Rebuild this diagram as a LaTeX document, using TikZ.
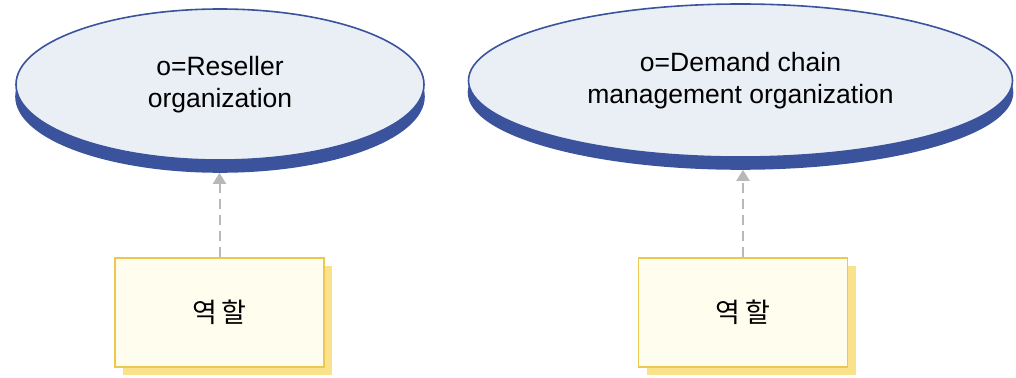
\documentclass[tikz,border=0pt]{standalone}
\usepackage{fontspec}
\setmainfont{Liberation Sans}
\newfontfamily\kofont{Noto Sans CJK KR}
\usepackage{tikz}
\usetikzlibrary{shapes.geometric,shadows,arrows.meta}
\usepackage{xcolor}
\definecolor{orgline}{RGB}{58,83,156}
\definecolor{orgfill}{RGB}{234,239,246}
\definecolor{roleline}{RGB}{236,200,80}
\definecolor{rolefill}{RGB}{255,253,238}
\definecolor{roleshade}{RGB}{250,225,140}
\definecolor{depgray}{RGB}{184,184,184}

\begin{document}
\begin{tikzpicture}[x=1pt, y=-1pt,
    org/.style={ellipse, draw=orgline, fill=orgfill, line width=1.6pt,
        align=center, font=\fontsize{26.5}{32.5}\selectfont,
        copy shadow={shadow xshift=0pt, shadow yshift=-12pt, fill=orgline, draw=orgline}},
    role/.style={rectangle, draw=roleline, fill=rolefill, line width=1.4pt,
        minimum width=209pt, minimum height=109pt, font=\kofont\fontsize{27}{31}\selectfont,
        copy shadow={shadow xshift=8pt, shadow yshift=-8pt, fill=roleshade, draw=none}},
    dep/.style={-{Triangle[width=13pt,length=11pt]}, depgray, line width=2pt,
        dash pattern=on 10pt off 6pt, shorten >=12pt}]
    \useasboundingbox (0,0) rectangle (1016,377);
    % Organisationen
    \node[org, minimum width=408pt, minimum height=151pt] (reseller) at (220,84.5)
        {o=Reseller\\organization};
    \node[org, minimum width=544pt, minimum height=153pt] (demand) at (740.5,80.5)
        {o=Demand chain\\management organization};
    % Rollen
    \node[role] (roleA) at (219.5,312.5) {역\hspace{5pt}할};
    \node[role] (roleB) at (743,312.5) {역\hspace{5pt}할};
    \draw[dep] (roleA.north) -- (roleA.north |- reseller.south);
    \draw[dep] (roleB.north) -- (roleB.north |- demand.south);
\end{tikzpicture}
\end{document}
